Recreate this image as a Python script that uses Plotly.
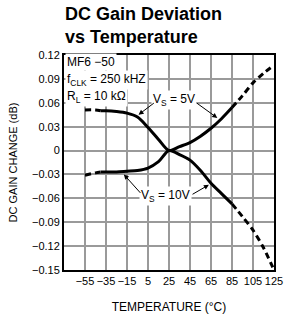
import plotly.graph_objects as go

# Data
temps    = [-55, -45, -40, -35, -25, -15, -5, 5, 15, 25, 35, 45, 55, 65, 75, 85, 95, 105, 115, 125]
gain_5v  = [0.051, 0.051, 0.050, 0.050, 0.049, 0.047, 0.042, 0.029, 0.014, 0.0, 0.005, 0.010, 0.018, 0.028, 0.040, 0.054, 0.069, 0.085, 0.097, 0.107]
gain_10v = [-0.031, -0.028, -0.027, -0.027, -0.027, -0.026, -0.025, -0.022, -0.014, 0.0, -0.005, -0.012, -0.025, -0.041, -0.054, -0.067, -0.083, -0.100, -0.122, -0.150]
solid_min, solid_max = -40, 85

x_ticks = [-55, -35, -15, 5, 25, 45, 65, 85, 105, 125]
y_ticks = [0.12, 0.09, 0.06, 0.03, 0, -0.03, -0.06, -0.09, -0.12, -0.15]
y_ticktext = ["0.12", "0.09", "0.06", "0.03", "0", "\u22120.03", "\u22120.06", "\u22120.09", "\u22120.12", "\u22120.15"]

FONT = "Liberation Sans, Arial, sans-serif"

fig = go.Figure()

def add_curve(vals):
    segs = [
        ([t for t in temps if t <= solid_min], "dash"),
        ([t for t in temps if solid_min <= t <= solid_max], "solid"),
        ([t for t in temps if t >= solid_max], "dash"),
    ]
    for ts, dash in segs:
        ys = [vals[temps.index(t)] for t in ts]
        fig.add_trace(go.Scatter(x=ts, y=ys, mode="lines",
                                 line=dict(color="black", width=3,
                                           dash="6px,4px" if dash == "dash" else "solid",
                                           shape="spline", smoothing=0.8),
                                 showlegend=False, hoverinfo="skip"))

add_curve(gain_5v)
add_curve(gain_10v)

fig.update_layout(
    width=295, height=324,
    margin=dict(l=64, r=17, t=55, b=54),
    paper_bgcolor="white", plot_bgcolor="white",
    showlegend=False,
    xaxis=dict(range=[-75, 125], tickvals=x_ticks, ticktext=[str(v).replace("-", "\u2212") for v in x_ticks],
               tickangle=0,
               showgrid=True, gridcolor="#9a9a9a", gridwidth=1.5, zeroline=False,
               showline=True, linecolor="black", linewidth=2, mirror=True, ticks="",
               tickfont=dict(family=FONT, size=11, color="black"),
               title=dict(text="TEMPERATURE (\u00b0C)", font=dict(family=FONT, size=12, color="black"), standoff=16)),
    yaxis=dict(range=[-0.15, 0.12], tickvals=y_ticks, ticktext=y_ticktext,
               showgrid=True, gridcolor="#9a9a9a", gridwidth=1.5, zeroline=False,
               showline=True, linecolor="black", linewidth=2, mirror=True, ticks="",
               tickfont=dict(family=FONT, size=11, color="black"),
               title=dict(text="DC GAIN CHANGE (dB)", font=dict(family=FONT, size=11, color="black"), standoff=12)),
)

# Title
fig.add_annotation(xref="paper", yref="paper", x=-0.005, y=1 + 6/215, xanchor="left", yanchor="bottom",
                   align="left", showarrow=False,
                   text="<b>DC Gain Deviation<br>vs Temperature</b>",
                   font=dict(family="Liberation Sans, Arial, sans-serif", size=18, color="black"))

# Condition box text (upper left)
cond = [("MF6 \u221250", 0.1115), ("f<sub>CLK</sub> = 250 kHZ", 0.0885), ("R<sub>L</sub> = 10 k\u03a9", 0.0675)]
for txt, yv in cond:
    fig.add_annotation(x=-74, y=yv, xref="x", yref="y", text=txt, showarrow=False,
                       xanchor="left", yanchor="middle", bgcolor="white", borderpad=1,
                       font=dict(family=FONT, size=12, color="black"))

# Curve labels
fig.add_annotation(x=30, y=0.0635, text="V<sub>S</sub> = 5V", showarrow=False, bgcolor="white",
                   font=dict(family=FONT, size=12, color="black"))
fig.add_annotation(x=22, y=-0.057, text="V<sub>S</sub> = 10V", showarrow=False, bgcolor="white",
                   font=dict(family=FONT, size=12, color="black"))

arrows = [((12, 0.061), (-4, 0.045)), ((50, 0.061), (71, 0.041)),
          ((-1, -0.055), (-18, -0.030)), ((46, -0.056), (63, -0.043))]
for (tx, ty), (hx, hy) in arrows:
    fig.add_annotation(x=hx, y=hy, ax=tx, ay=ty, xref="x", yref="y", axref="x", ayref="y",
                       text="", showarrow=True, arrowhead=2, arrowsize=1, arrowwidth=1, arrowcolor="black")

fig.write_html("out.html", config={"displayModeBar": False},
               post_script="document.body.style.margin='0';document.body.style.overflow='hidden';")
